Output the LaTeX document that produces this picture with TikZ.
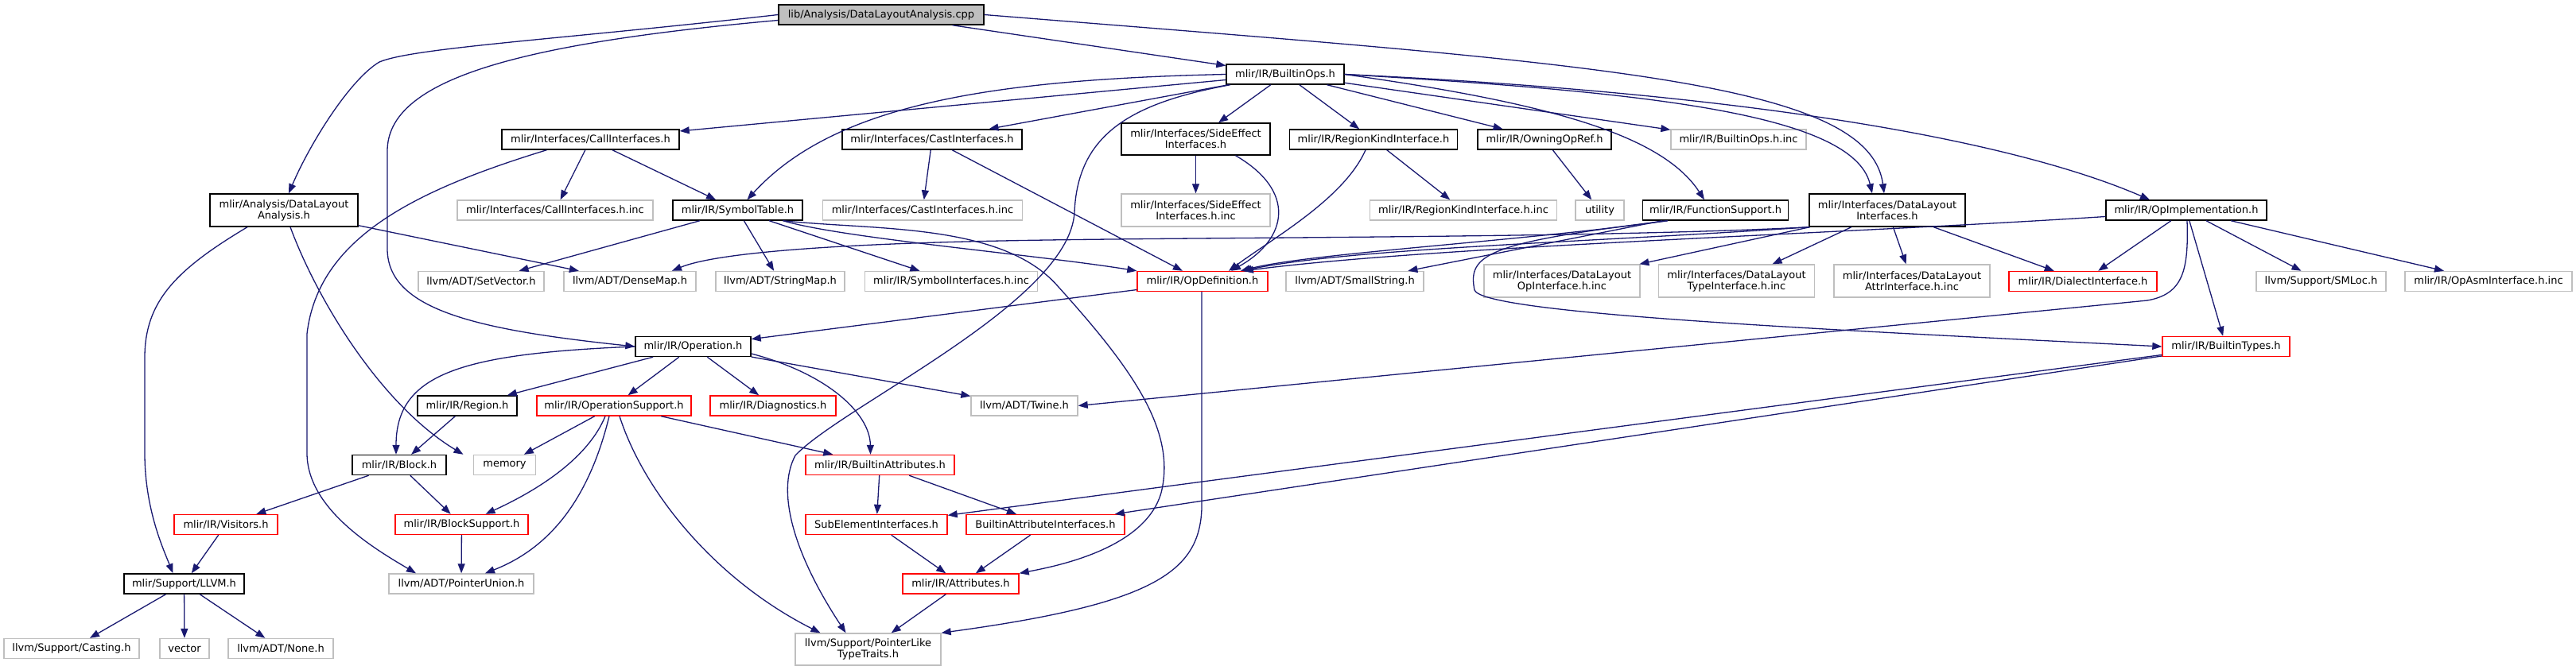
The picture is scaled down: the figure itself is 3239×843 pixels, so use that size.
\documentclass[tikz,border=0pt]{standalone}
\usepackage{fontspec}
\setmainfont{DejaVu Sans}
\usetikzlibrary{arrows.meta}
\definecolor{dxedge}{RGB}{25,25,112}
\definecolor{dxgray}{RGB}{191,191,191}
\definecolor{dxred}{RGB}{255,0,0}

\begin{document}
\begin{tikzpicture}[x=1pt,y=-1pt,font=\fontsize{13}{14}\selectfont,
    every node/.style={align=center,inner sep=0pt,minimum height=25pt},
    doc/.style={draw=black,line width=1.4pt,fill=white},
    undoc/.style={draw=dxgray,line width=1.4pt,fill=white},
    trunc/.style={draw=dxred,line width=1.4pt,fill=white},
    rootnode/.style={draw=black,line width=1.4pt,fill=dxgray},
    inc/.style={draw=dxedge,line width=1.3pt,-{Triangle[length=12pt,width=9pt]}}]
  \useasboundingbox (0,0) rectangle (3239,843);
  % rows 0-2
  \node[rootnode,minimum width=258] (root) at (1108,18.5) {lib/Analysis/DataLayoutAnalysis.cpp};
  \node[doc,minimum width=148] (bops) at (1616,93.5) {mlir/IR/BuiltinOps.h};
  \node[doc,minimum width=223] (callif) at (742.5,175.5) {mlir/Interfaces/CallInterfaces.h};
  \node[doc,minimum width=226] (castif) at (1172,175.5) {mlir/Interfaces/CastInterfaces.h};
  \node[doc,minimum width=187,minimum height=40] (seif) at (1503.5,175) {mlir/Interfaces/SideEffect\\Interfaces.h};
  \node[doc,minimum width=211] (rkif) at (1727,175.5) {mlir/IR/RegionKindInterface.h};
  \node[doc,minimum width=168] (owning) at (1942,175.5) {mlir/IR/OwningOpRef.h};
  \node[undoc,minimum width=170] (bopsinc) at (2186,175.5) {mlir/IR/BuiltinOps.h.inc};
  % row 3
  \node[doc,minimum width=186,minimum height=41] (dla) at (357,264.5) {mlir/Analysis/DataLayout\\Analysis.h};
  \node[undoc,minimum width=246] (callinc) at (698,264.5) {mlir/Interfaces/CallInterfaces.h.inc};
  \node[doc,minimum width=163] (symtab) at (927.5,264.5) {mlir/IR/SymbolTable.h};
  \node[undoc,minimum width=251] (castinc) at (1160,264.5) {mlir/Interfaces/CastInterfaces.h.inc};
  \node[undoc,minimum width=187,minimum height=41] (seinc) at (1503.5,264.5) {mlir/Interfaces/SideEffect\\Interfaces.h.inc};
  \node[undoc,minimum width=235] (rkinc) at (1840,264.5) {mlir/IR/RegionKindInterface.h.inc};
  \node[undoc,minimum width=61] (utility) at (2011.5,264.5) {utility};
  \node[doc,minimum width=183] (funcsup) at (2157,264.5) {mlir/IR/FunctionSupport.h};
  \node[doc,minimum width=196,minimum height=41] (dlif) at (2373,264.5) {mlir/Interfaces/DataLayout\\Interfaces.h};
  \node[doc,minimum width=202] (opimpl) at (2749,264.5) {mlir/IR/OpImplementation.h};
  % row 4
  \node[undoc,minimum width=158] (setvec) at (605,354) {llvm/ADT/SetVector.h};
  \node[undoc,minimum width=166] (densemap) at (792,354) {llvm/ADT/DenseMap.h};
  \node[undoc,minimum width=162] (strmap) at (981,354) {llvm/ADT/StringMap.h};
  \node[undoc,minimum width=217] (syminc) at (1196,354) {mlir/IR/SymbolInterfaces.h.inc};
  \node[trunc,minimum width=164] (opdef) at (1512,354) {mlir/IR/OpDefinition.h};
  \node[undoc,minimum width=173] (smallstr) at (1703.5,354) {llvm/ADT/SmallString.h};
  \node[undoc,minimum width=196,minimum height=41] (dlop) at (1964,353.5) {mlir/Interfaces/DataLayout\\OpInterface.h.inc};
  \node[undoc,minimum width=196,minimum height=41] (dltype) at (2183.5,353.5) {mlir/Interfaces/DataLayout\\TypeInterface.h.inc};
  \node[undoc,minimum width=196,minimum height=41] (dlattr) at (2404,353.5) {mlir/Interfaces/DataLayout\\AttrInterface.h.inc};
  \node[trunc,minimum width=186] (dialif) at (2619,354) {mlir/IR/DialectInterface.h};
  \node[undoc,minimum width=163] (smloc) at (2918.5,354) {llvm/Support/SMLoc.h};
  \node[undoc,minimum width=210] (opasm) at (3129,354) {mlir/IR/OpAsmInterface.h.inc};
  % rows 5-10
  \node[doc,minimum width=145] (operation) at (871.5,436) {mlir/IR/Operation.h};
  \node[trunc,minimum width=160] (btypes) at (2799,436) {mlir/IR/BuiltinTypes.h};
  \node[doc,minimum width=125] (region) at (587.5,510.5) {mlir/IR/Region.h};
  \node[trunc,minimum width=194] (opsupp) at (772,510.5) {mlir/IR/OperationSupport.h};
  \node[trunc,minimum width=158] (diag) at (972,510.5) {mlir/IR/Diagnostics.h};
  \node[undoc,minimum width=134] (twine) at (1288,510.5) {llvm/ADT/Twine.h};
  \node[doc,minimum width=118] (block) at (502,585) {mlir/IR/Block.h};
  \node[undoc,minimum width=78] (memory) at (634.5,585) {memory};
  \node[trunc,minimum width=187] (battr) at (1106.5,585) {mlir/IR/BuiltinAttributes.h};
  \node[trunc,minimum width=130] (visitors) at (284,660) {mlir/IR/Visitors.h};
  \node[trunc,minimum width=167] (bsupp) at (580.5,660) {mlir/IR/BlockSupport.h};
  \node[trunc,minimum width=178] (subelem) at (1102,660) {SubElementInterfaces.h};
  \node[trunc,minimum width=199] (baif) at (1314.5,660) {BuiltinAttributeInterfaces.h};
  \node[doc,minimum width=151] (llvm) at (231.5,734.5) {mlir/Support/LLVM.h};
  \node[undoc,minimum width=182] (punion) at (580,734.5) {llvm/ADT/PointerUnion.h};
  \node[trunc,minimum width=146] (attrs) at (1208,734.5) {mlir/IR/Attributes.h};
  \node[undoc,minimum width=170] (casting) at (90,816) {llvm/Support/Casting.h};
  \node[undoc,minimum width=62] (vector) at (232,816) {vector};
  \node[undoc,minimum width=132] (none) at (353,816) {llvm/ADT/None.h};
  \node[undoc,minimum width=183,minimum height=40] (pltt) at (1091.5,817) {llvm/Support/PointerLike\\TypeTraits.h};
  % includes
  \draw[inc] (root.west) .. controls (700,50) and (520,60) .. (477,78) .. controls (440,100) and (390,180) .. ([xshift=6]dla.north);
  \draw[inc] ([yshift=-7pt]root.west) .. controls (650,55) and (487,100) .. (487,190) -- (487,313) .. controls (487,390) and (600,415) .. (operation.west);
  \draw[inc] (root) -- (bops);
  \draw[inc] (root.east) .. controls (2000,80) and (2350,100) .. ([xshift=-4]dlif.north);
  \draw[inc] (bops) -- (callif);
  \draw[inc] (bops.west) .. controls (1250,100) and (1050,130) .. ([xshift=12]symtab.north);
  \draw[inc] (bops) -- (castif);
  \draw[inc] (bops) -- (seif);
  \draw[inc] (bops) -- (rkif);
  \draw[inc] (bops) -- (owning);
  \draw[inc] (bops) -- (bopsinc);
  \draw[inc] (bops.east) .. controls (1950,130) and (2090,170) .. ([xshift=-14]funcsup.north);
  \draw[inc] (bops.east) .. controls (2050,115) and (2330,140) .. ([xshift=-19]dlif.north);
  \draw[inc] (bops.east) .. controls (2250,120) and (2550,185) .. ([xshift=-46]opimpl.north);
  \draw[inc] ([xshift=-69]bops.south) .. controls (1420,130) and (1355,170) .. (1351,267) .. controls (1345,380) and (1060,510) .. (1000,573) .. controls (975,620) and (1000,700) .. ([xshift=-28]pltt.north);
  \draw[inc] (callif) -- (callinc);
  \draw[inc] (callif) -- (symtab);
  \draw[inc] ([xshift=-55]callif.south) .. controls (520,240) and (400,300) .. (386,420) -- (386,570) .. controls (386,640) and (470,690) .. ([xshift=-57]punion.north);
  \draw[inc] (castif) -- (castinc);
  \draw[inc] (castif) -- (opdef);
  \draw[inc] (seif) -- (seinc);
  \draw[inc] ([xshift=50]seif.south) .. controls (1630,240) and (1620,300) .. ([xshift=36]opdef.north);
  \draw[inc] (rkif) -- (rkinc);
  \draw[inc] ([xshift=-10]rkif.south) .. controls (1690,250) and (1600,300) .. ([xshift=33]opdef.north);
  \draw[inc] (owning) -- (utility);
  \draw[inc] (dla) -- (densemap);
  \draw[inc] ([xshift=-46]dla.south) .. controls (220,340) and (182,380) .. (182,450) -- (182,570) .. controls (182,640) and (205,690) .. ([xshift=-14]llvm.north);
  \draw[inc] ([xshift=8]dla.south) .. controls (400,380) and (480,510) .. ([xshift=-52]memory.north);
  \draw[inc] (symtab) -- (setvec);
  \draw[inc] (symtab) -- (strmap);
  \draw[inc] (symtab) -- (syminc);
  \draw[inc] ([xshift=57]symtab.south) .. controls (1060,300) and (1300,320) .. (opdef.north west);
  \draw[inc] ([xshift=57]symtab.south) .. controls (1100,290) and (1260,280) .. (1330,360) .. controls (1420,460) and (1480,540) .. (1460,620) .. controls (1440,690) and (1330,712) .. (attrs.north east);
  \draw[inc] ([xshift=-60]funcsup.south) .. controls (1900,305) and (1650,318) .. ([xshift=48]opdef.north);
  \draw[inc] (funcsup) -- (smallstr);
  \draw[inc] ([xshift=-60]funcsup.south) .. controls (1870,305) and (1845,320) .. (1854,365) .. controls (1865,395) and (2300,415) .. (btypes.west);
  \draw[inc] ([xshift=-98]dlif.south) .. controls (2000,300) and (1500,298) .. (1260,303) .. controls (1050,307) and (900,318) .. ([xshift=53]densemap.north);
  \draw[inc] ([xshift=-98]dlif.south) .. controls (2000,305) and (1700,312) .. ([xshift=50]opdef.north);
  \draw[inc] (dlif) -- (dlop);
  \draw[inc] (dlif) -- (dltype);
  \draw[inc] (dlif) -- (dlattr);
  \draw[inc] (dlif) -- (dialif);
  \draw[inc] ([yshift=-8pt]opimpl.west) .. controls (2300,295) and (1800,310) .. ([xshift=52]opdef.north);
  \draw[inc] (opimpl) -- (dialif);
  \draw[inc] (opimpl) -- (smloc);
  \draw[inc] (opimpl) -- (opasm);
  \draw[inc] (opimpl) -- (btypes);
  \draw[inc] ([xshift=1]opimpl.south) .. controls (2752,340) and (2745,370) .. (2700,378) -- (twine.east);
  \draw[inc] (opdef) -- (operation);
  \draw[inc] ([xshift=-1]opdef.south) -- (1511,640) .. controls (1508,720) and (1450,760) .. (pltt.north east);
  \draw[inc] (operation.west) .. controls (580,445) and (498,470) .. ([xshift=-4]block.north);
  \draw[inc] (operation) -- (region);
  \draw[inc] (operation) -- (opsupp);
  \draw[inc] (operation) -- (diag);
  \draw[inc] ([yshift=-9pt]operation.east) .. controls (1040,470) and (1094,520) .. ([xshift=-12]battr.north);
  \draw[inc] (operation) -- (twine);
  \draw[inc] (opsupp) -- (memory);
  \draw[inc] ([xshift=-11]opsupp.south) .. controls (740,575) and (680,615) .. ([xshift=30]bsupp.north);
  \draw[inc] ([xshift=-6]opsupp.south) .. controls (740,630) and (690,690) .. ([xshift=30]punion.north);
  \draw[inc] ([xshift=7]opsupp.south) .. controls (810,620) and (900,730) .. ([xshift=-60]pltt.north);
  \draw[inc] (opsupp) -- (battr);
  \draw[inc] (region) -- (block);
  \draw[inc] (block) -- (visitors);
  \draw[inc] (block) -- (bsupp);
  \draw[inc] (visitors) -- (llvm);
  \draw[inc] (bsupp) -- (punion);
  \draw[inc] (llvm) -- (casting);
  \draw[inc] (llvm) -- (vector);
  \draw[inc] (llvm) -- (none);
  \draw[inc] (battr) -- (subelem);
  \draw[inc] (battr) -- (baif);
  \draw[inc] (subelem) -- (attrs);
  \draw[inc] (baif) -- (attrs);
  \draw[inc] (attrs) -- (pltt);
  \draw[inc] (btypes) -- (subelem);
  \draw[inc] (btypes) -- (baif);
\end{tikzpicture}
\end{document}
